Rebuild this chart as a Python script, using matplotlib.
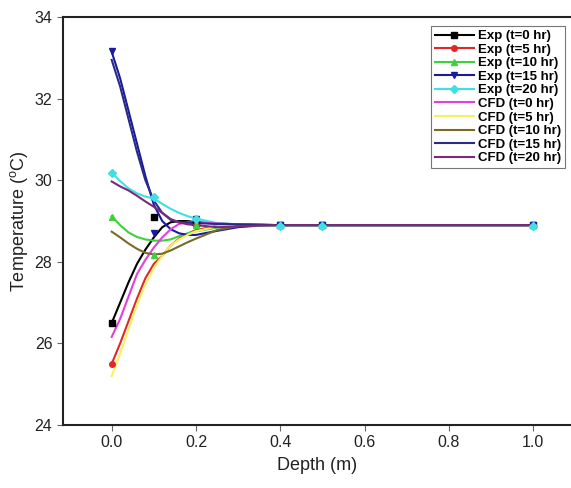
import numpy as np
import matplotlib
matplotlib.use("Agg")
import matplotlib.pyplot as plt

plt.rcParams['font.family'] = ['Liberation Sans', 'DejaVu Sans']

# measured points (markers)
exp_depth = [0.0, 0.1, 0.2, 0.4, 0.5, 1.0]
exp_t0 = [26.5, 29.09, 28.95, 28.9, 28.9, 28.9]
exp_t5 = [25.5, np.nan, 28.9, 28.9, 28.9, 28.9]
exp_t10 = [29.1, 28.18, 28.9, 28.9, 28.9, 28.9]
exp_t15 = [33.18, 28.7, 29.04, 28.9, 28.9, 28.9]
exp_t20 = [30.19, 29.6, 29.06, 28.88, 28.88, 28.88]

# fitted lines through the measured points
fit_depth = [0.0, 0.02, 0.04, 0.06, 0.08, 0.1, 0.12, 0.14, 0.16, 0.18, 0.2, 0.25, 0.3, 0.35, 0.4, 1.0]
fit_t0 = [26.5, 27.0, 27.5, 27.95, 28.3, 28.6, 28.85, 28.97, 29.0, 29.0, 28.97, 28.94, 28.92, 28.91, 28.9, 28.9]
fit_t5 = [25.5, 26.0, 26.55, 27.1, 27.6, 27.95, 28.15, 28.4, 28.57, 28.69, 28.78, 28.88, 28.9, 28.9, 28.9, 28.9]
fit_t10 = [29.12, 28.9, 28.72, 28.61, 28.55, 28.52, 28.52, 28.55, 28.63, 28.7, 28.75, 28.84, 28.88, 28.9, 28.9, 28.9]
fit_t15 = [33.15, 32.5, 31.7, 30.9, 30.1, 29.4, 29.0, 28.8, 28.7, 28.66, 28.66, 28.76, 28.85, 28.89, 28.9, 28.9]
fit_t20 = [30.19, 29.98, 29.8, 29.68, 29.6, 29.55, 29.42, 29.3, 29.2, 29.12, 29.06, 28.95, 28.92, 28.9, 28.89, 28.89]

# CFD results
cfd_depth = [0.0, 0.02, 0.04, 0.06, 0.08, 0.1, 0.12, 0.14, 0.16, 0.18, 0.2, 0.25, 0.3, 0.35, 0.4, 1.0]
cfd_t0 = [26.16, 26.6, 27.15, 27.7, 28.05, 28.35, 28.6, 28.8, 28.93, 28.97, 28.97, 28.94, 28.92, 28.91, 28.9, 28.9]
cfd_t5 = [25.2, 25.75, 26.35, 26.95, 27.45, 27.85, 28.15, 28.4, 28.55, 28.66, 28.75, 28.87, 28.9, 28.9, 28.9, 28.9]
cfd_t10 = [28.74, 28.6, 28.45, 28.32, 28.22, 28.18, 28.2, 28.28, 28.38, 28.48, 28.57, 28.78, 28.88, 28.9, 28.9, 28.9]
cfd_t15 = [32.95, 32.3, 31.5, 30.7, 30.0, 29.5, 29.2, 29.03, 28.97, 28.96, 28.95, 28.93, 28.92, 28.91, 28.9, 28.9]
cfd_t20 = [29.97, 29.85, 29.75, 29.62, 29.48, 29.35, 29.2, 29.05, 28.97, 28.92, 28.9, 28.85, 28.87, 28.89, 28.9, 28.9]

exp_sets = [
    (exp_t0, fit_t0, 'black', 's', 'Exp (t=0 hr)'),
    (exp_t5, fit_t5, '#e02828', 'o', 'Exp (t=5 hr)'),
    (exp_t10, fit_t10, '#3cd23c', '^', 'Exp (t=10 hr)'),
    (exp_t15, fit_t15, '#1a1aa0', 'v', 'Exp (t=15 hr)'),
    (exp_t20, fit_t20, '#3ee0e6', 'D', 'Exp (t=20 hr)'),
]
cfd_sets = [
    (cfd_t0, '#e040e0', 'CFD (t=0 hr)'),
    (cfd_t5, '#f8f060', 'CFD (t=5 hr)'),
    (cfd_t10, '#7a6a28', 'CFD (t=10 hr)'),
    (cfd_t15, '#2a2a88', 'CFD (t=15 hr)'),
    (cfd_t20, '#7a2a7a', 'CFD (t=20 hr)'),
]

fig = plt.figure(figsize=(5.71, 4.88), dpi=100)
ax = fig.add_axes([0.110, 0.129, 0.890, 0.836])

handles = []
labels = []
for vals, fit, col, mk, lab in exp_sets:
    ln, = ax.plot(fit_depth, fit, color=col, lw=1.5, zorder=3)
    mh, = ax.plot(exp_depth, vals, ls='none', marker=mk, color=col, ms=4, zorder=5)
    handles.append((ln, mh))
    labels.append(lab)
for vals, col, lab in cfd_sets:
    ln, = ax.plot(cfd_depth, vals, color=col, lw=1.5, zorder=4)
    handles.append(ln)
    labels.append(lab)

ax.set_xlim(-0.116, 1.09)
ax.set_ylim(24, 34)
ax.set_xticks([0.0, 0.2, 0.4, 0.6, 0.8, 1.0])
ax.set_yticks([24, 26, 28, 30, 32, 34])
ax.tick_params(direction='out', length=4, width=0.8, colors='#666666',
               labelcolor='#222222', labelsize=11.5, top=False, right=False)
for s in ['left', 'bottom', 'top']:
    ax.spines[s].set_linewidth(1.5)
    ax.spines[s].set_color('#222222')
ax.spines['right'].set_visible(False)

ax.set_xlabel('Depth (m)', fontsize=13, color='#222222', labelpad=5)
ax.set_ylabel(r'Temperature ($\mathregular{^{o}}$C)', fontsize=13, color='#222222', labelpad=3)

leg = ax.legend(handles, labels, loc='upper left', bbox_to_anchor=(0.724, 0.978),
                prop={'weight': 'bold', 'size': 9.5}, frameon=True, fancybox=False,
                handlelength=3.0, handletextpad=0.3, labelspacing=0.1,
                borderpad=0.3, borderaxespad=0)
leg.get_frame().set_edgecolor('#555555')
leg.get_frame().set_linewidth(0.8)

fig.savefig('out.png', dpi=100)
